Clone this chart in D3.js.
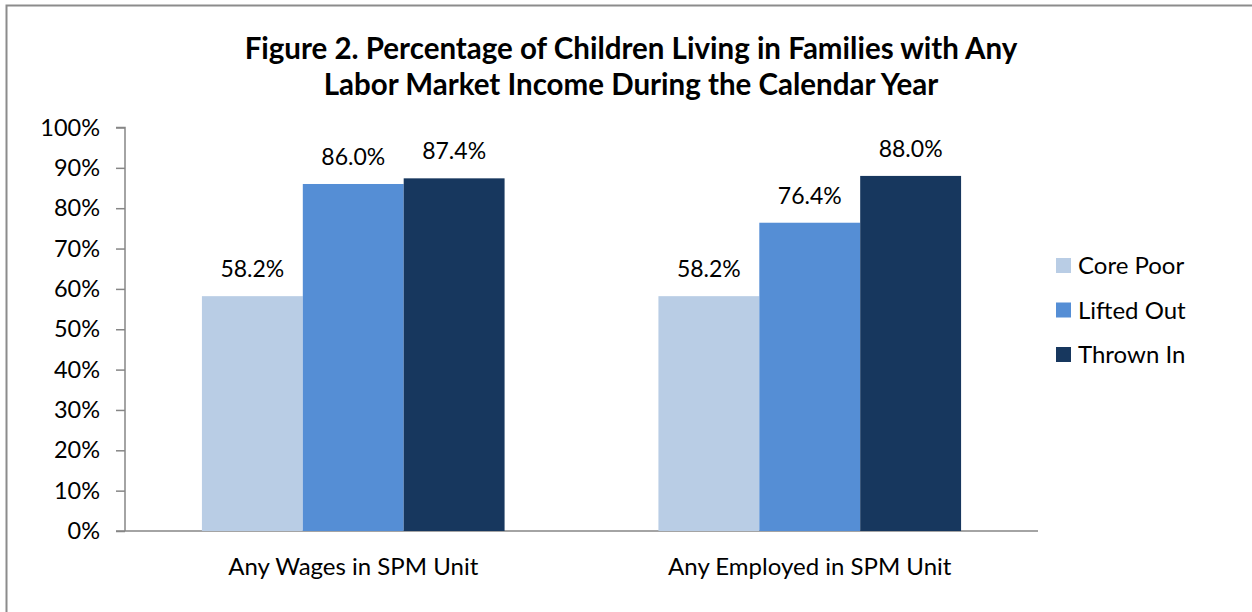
<!DOCTYPE html>
<html>
<head>
<meta charset="utf-8">
<script src="https://cdn.jsdelivr.net/npm/d3@7"></script>
<style>
  html, body { margin: 0; padding: 0; background: #fff; }
  svg { display: block; font-family: "Lato", "Open Sans", sans-serif; }
</style>
</head>
<body>
<svg id="chart" width="1252" height="612"></svg>
<script>
// Chart data
const categories = ["Any Wages in SPM Unit", "Any Employed in SPM Unit"];
const seriesNames = ["Core Poor", "Lifted Out", "Thrown In"];
const corePoor = [58.2, 58.2];
const liftedOut = [86.0, 76.4];
const thrownIn = [87.4, 88.0];
const seriesColors = ["#B9CDE5", "#558ED5", "#17375E"];
const yTicks = [0, 10, 20, 30, 40, 50, 60, 70, 80, 90, 100];
const titleLines = [
  "Figure 2. Percentage of Children Living in Families with Any",
  "Labor Market Income During the Calendar Year"
];

const seriesValues = [corePoor, liftedOut, thrownIn];

const svg = d3.select("#chart");

// Outer frame (runs off the right and bottom edges)
svg.append("rect")
  .attr("x", 6.5).attr("y", 5.5)
  .attr("width", 1300).attr("height", 700)
  .attr("fill", "none")
  .attr("stroke", "#8c8c8c")
  .attr("stroke-width", 2);

// Plot area
const plot = { left: 125, right: 1038, top: 127.5, bottom: 531 };

const x0 = d3.scaleBand()
  .domain(categories)
  .range([plot.left, plot.right])
  .paddingInner(0.337)
  .paddingOuter(0.1685);

const x1 = d3.scaleBand()
  .domain(seriesNames)
  .range([0, x0.bandwidth()])
  .padding(0);

const y = d3.scaleLinear()
  .domain([0, 100])
  .range([plot.bottom, plot.top]);

// Title
svg.append("g")
  .selectAll("text")
  .data(titleLines)
  .join("text")
  .attr("x", 631)
  .attr("y", (d, i) => 59 + i * 36)
  .attr("text-anchor", "middle")
  .attr("font-size", 29.5)
  .attr("font-weight", "bold")
  .attr("fill", "#000")
  .text(d => d);

// Y axis
const yAxis = d3.axisLeft(y)
  .tickValues(yTicks)
  .tickSize(9)
  .tickPadding(16)
  .tickFormat(d => d + "%");

const gy = svg.append("g")
  .attr("transform", `translate(${plot.left},0)`)
  .call(yAxis);
gy.select(".domain")
  .attr("d", `M-9,${y(100)}H0V${y(0)}`)
  .attr("stroke", "#868686")
  .attr("stroke-width", 1.5);
gy.selectAll(".tick line").attr("stroke", "#868686").attr("stroke-width", 1.5);
gy.selectAll(".tick text")
  .attr("font-size", 23.5)
  .attr("font-family", "Lato, sans-serif")
  .attr("fill", "#000");

// X axis line
const xAxis = d3.axisBottom(x0).tickSize(0).tickPadding(27);
const gx = svg.append("g")
  .attr("transform", `translate(0,${plot.bottom})`)
  .call(xAxis);
gx.select(".domain")
  .attr("d", `M${plot.left - 9},0H${plot.right}`)
  .attr("stroke", "#868686")
  .attr("stroke-width", 1.5);
gx.selectAll(".tick text")
  .attr("font-size", 24)
  .attr("font-family", "Lato, sans-serif")
  .attr("fill", "#000");

// Bars
const groups = svg.append("g")
  .selectAll("g")
  .data(categories)
  .join("g")
  .attr("transform", d => `translate(${x0(d)},0)`);

const barData = (c, ci) => seriesNames.map((s, si) => ({ series: s, value: seriesValues[si][ci], color: seriesColors[si] }));

groups.selectAll("rect")
  .data((c, ci) => barData(c, ci))
  .join("rect")
  .attr("x", d => x1(d.series))
  .attr("y", d => y(d.value))
  .attr("width", x1.bandwidth())
  .attr("height", d => y(0) - y(d.value))
  .attr("fill", d => d.color);

// Value labels
groups.selectAll("text.value")
  .data((c, ci) => barData(c, ci))
  .join("text")
  .attr("class", "value")
  .attr("x", d => x1(d.series) + x1.bandwidth() / 2)
  .attr("y", d => y(d.value) - 19)
  .attr("text-anchor", "middle")
  .attr("font-size", 23)
  .attr("fill", "#000")
  .text(d => d.value.toFixed(1) + "%");

// Legend
const legend = svg.append("g")
  .selectAll("g")
  .data(seriesNames)
  .join("g")
  .attr("transform", (d, i) => `translate(1056,${258 + i * 44.5})`);

legend.append("rect")
  .attr("width", 15).attr("height", 15)
  .attr("fill", (d, i) => seriesColors[i]);

legend.append("text")
  .attr("x", 22)
  .attr("y", 16)
  .attr("font-size", 24)
  .attr("fill", "#000")
  .text(d => d);
</script>
</body>
</html>
